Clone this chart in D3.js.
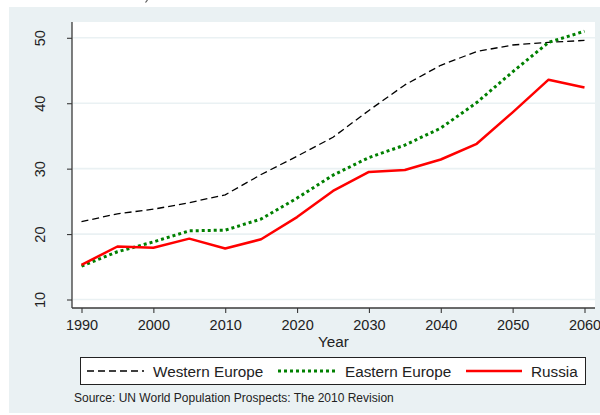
<!DOCTYPE html>
<html>
<head>
<meta charset="utf-8">
<script src="https://cdn.jsdelivr.net/npm/d3@7"></script>
<style>
  html, body { margin: 0; padding: 0; background: #ffffff; }
  svg { display: block; font-family: Arial, "Liberation Sans", sans-serif; }
</style>
</head>
<body>
<svg id="chart" width="600" height="415"></svg>
<script>
// Share of population aged 60+ (%), 1990–2060
const years = [1990, 1995, 2000, 2005, 2010, 2015, 2020, 2025, 2030, 2035, 2040, 2045, 2050, 2055, 2060];
const westernEurope = [21.9, 23.1, 23.8, 24.8, 26.0, 29.1, 31.9, 34.8, 38.9, 42.8, 45.8, 47.9, 48.9, 49.3, 49.6];
const easternEurope = [15.1, 17.3, 18.8, 20.5, 20.6, 22.3, 25.5, 29.0, 31.7, 33.6, 36.2, 40.1, 44.8, 49.3, 51.0];
const russia        = [15.3, 18.1, 17.9, 19.3, 17.8, 19.2, 22.6, 26.6, 29.5, 29.8, 31.4, 33.8, 38.6, 43.6, 42.4];
const seriesNames = ["Western Europe", "Eastern Europe", "Russia"];
const xTicks = [1990, 2000, 2010, 2020, 2030, 2040, 2050, 2060];
const yTicks = [10, 20, 30, 40, 50];
const xTitle = "Year";
const sourceNote = "Source: UN World Population Prospects: The 2010 Revision";

const svg = d3.select("#chart");
const bg = "#eaf1f3";
const fs = 15.3;      // legend / axis title
const tickFs = 14.5;  // tick labels

// outer panel
svg.append("rect").attr("x", 9).attr("y", 7).attr("width", 591).attr("height", 406).attr("fill", bg);
// clipped stroke of a heading above the panel
svg.append("line").attr("x1", 145.5).attr("y1", 2.5).attr("x2", 147.5).attr("y2", 0)
  .attr("stroke", "#555").attr("stroke-width", 1.2);

const plot = { left: 72, top: 22, right: 595, bottom: 308 };
svg.append("rect")
  .attr("x", plot.left).attr("y", plot.top)
  .attr("width", plot.right - plot.left).attr("height", plot.bottom - plot.top)
  .attr("fill", "#ffffff");

const x = d3.scaleLinear().domain([1990, 2060]).range([81.5, 584.5]);
const y = d3.scaleLinear().domain([10, 50]).range([299.5, 37.8]);

// horizontal grid
svg.append("g").selectAll("line").data(yTicks).join("line")
  .attr("x1", plot.left + 1).attr("x2", plot.right)
  .attr("y1", d => y(d)).attr("y2", d => y(d))
  .attr("stroke", bg).attr("stroke-width", 1.6);

// axes
const axisColor = "#3a3a3a";
const yAxis = svg.append("g").attr("transform", `translate(${plot.left},0)`)
  .call(d3.axisLeft(y).tickValues(yTicks).tickSize(5).tickSizeOuter(0).tickFormat(d3.format("d")));
yAxis.select(".domain").remove();
yAxis.append("line").attr("x1", 0).attr("x2", 0).attr("y1", plot.top).attr("y2", plot.bottom)
  .attr("stroke", axisColor).attr("stroke-width", 1.3);
yAxis.selectAll(".tick line").attr("stroke", axisColor).attr("stroke-width", 1.1);
yAxis.selectAll(".tick text")
  .attr("font-size", tickFs).attr("fill", "#222")
  .attr("text-anchor", "middle")
  .attr("transform", "translate(-32,0) rotate(-90)")
  .attr("x", 0).attr("dy", "0.35em").attr("y", 0);

const xAxis = svg.append("g").attr("transform", `translate(0,${plot.bottom})`)
  .call(d3.axisBottom(x).tickValues(xTicks).tickSize(5).tickSizeOuter(0).tickFormat(d3.format("d")));
xAxis.select(".domain").remove();
xAxis.append("line").attr("x1", plot.left).attr("x2", plot.right).attr("y1", 0).attr("y2", 0)
  .attr("stroke", axisColor).attr("stroke-width", 1.3);
xAxis.selectAll(".tick line").attr("stroke", axisColor).attr("stroke-width", 1.1);
xAxis.selectAll(".tick text").attr("font-size", tickFs).attr("fill", "#222").attr("y", 12).attr("dy", "0.71em");

svg.append("text").attr("x", (plot.left + plot.right) / 2).attr("y", 347)
  .attr("text-anchor", "middle").attr("font-size", fs).attr("fill", "#222").text(xTitle);

// series
const styles = [
  { values: westernEurope, color: "#000000", width: 1.3, dash: "7,4" },
  { values: easternEurope, color: "#008000", width: 3, dash: "3,3" },
  { values: russia,        color: "#ff0000", width: 2.5, dash: null }
];
const line = d3.line().x(d => x(d[0])).y(d => y(d[1]));
styles.forEach(s => {
  svg.append("path")
    .datum(years.map((yr, i) => [yr, s.values[i]]))
    .attr("d", line)
    .attr("fill", "none")
    .attr("stroke", s.color)
    .attr("stroke-width", s.width)
    .attr("stroke-dasharray", s.dash)
    .attr("stroke-linejoin", "round");
});

// legend
const legend = svg.append("g");
legend.append("rect").attr("x", 80.5).attr("y", 357.5).attr("width", 505).attr("height", 27)
  .attr("fill", "#ffffff").attr("stroke", "#222").attr("stroke-width", 1);
const legendItems = [
  { lx1: 87, lx2: 144, tx: 153 },
  { lx1: 278, lx2: 335, tx: 345 },
  { lx1: 466, lx2: 522, tx: 531 }
];
legendItems.forEach((it, i) => {
  const s = styles[i];
  legend.append("line").attr("x1", it.lx1).attr("x2", it.lx2).attr("y1", 371).attr("y2", 371)
    .attr("stroke", s.color).attr("stroke-width", s.width).attr("stroke-dasharray", s.dash);
  legend.append("text").attr("x", it.tx).attr("y", 376.5).attr("font-size", fs).attr("fill", "#222")
    .text(seriesNames[i]);
});

svg.append("text").attr("x", 74).attr("y", 401.5).attr("font-size", 12).attr("fill", "#222").text(sourceNote);
</script>
</body>
</html>
